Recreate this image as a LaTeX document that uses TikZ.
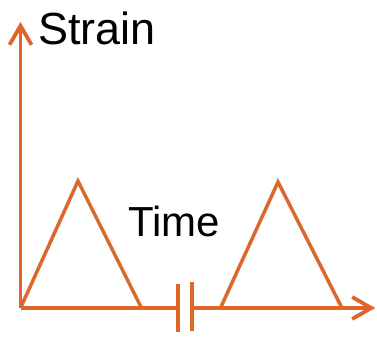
\documentclass[tikz,border=0pt]{standalone}
\usepackage{fontspec}
\setmainfont{Liberation Sans}
\usetikzlibrary{arrows.meta}
\definecolor{axisorange}{RGB}{224,101,40}
\tikzset{
  axisline/.style={draw=axisorange, line width=3.3pt, line cap=butt, line join=miter},
  shadowline/.style={draw=black!35, line width=4pt, opacity=0.35},
  tip/.style={-{Straight Barb[length=19pt,width=22pt,line width=3.8pt]}},
  label/.style={inner sep=0pt, anchor=base west, text=black}
}
\begin{document}
\begin{tikzpicture}[x=1pt,y=-1pt]
  \useasboundingbox (0,0) rectangle (377,338);
  % key points of the axes and the break
  \coordinate (O) at (20.5,308);
  \coordinate (ytop) at (20.5,22);
  \coordinate (xend) at (375,308);
  \coordinate (brkL) at (178,308);
  \coordinate (brkR) at (192,308);
  \coordinate (brkLtop) at (178,284);
  \coordinate (brkLbot) at (178,332);
  \coordinate (brkRtop) at (192,282);
  \coordinate (brkRbot) at (192,331);
  % two load pulses
  \coordinate (a1) at (20.5,308);
  \coordinate (p1) at (78,181);
  \coordinate (b1) at (141.5,308);
  \coordinate (a2) at (220.5,308);
  \coordinate (p2) at (278,182);
  \coordinate (b2) at (342,308);

  % soft drop shadow under the lines
  \begin{scope}[shift={(1.5,3)}]
    \path[shadowline] (a1) -- (p1) -- (b1);
    \path[shadowline] (a2) -- (p2) -- (b2);
    \path[shadowline] (O) -- (brkL);
    \path[shadowline] (brkR) -- (xend);
    \path[shadowline] (brkLtop) -- (brkLbot);
    \path[shadowline] (brkRtop) -- (brkRbot);
  \end{scope}

  % pulses
  \draw[axisline] (a1) -- (p1) -- (b1);
  \draw[axisline] (a2) -- (p2) -- (b2);
  % axes with the break on the time axis
  \draw[axisline, tip] (O) -- (ytop);
  \draw[axisline] (O) -- (brkL);
  \draw[axisline, tip] (brkR) -- (xend);
  \draw[axisline] (brkLtop) -- (brkLbot);
  \draw[axisline] (brkRtop) -- (brkRbot);

  % axis labels
  \node[label, font=\fontsize{45}{52}\selectfont] (strain) at (38,44) {Strain};
  \node[label, font=\fontsize{42}{49}\selectfont] (time) at (128,236) {Time};
\end{tikzpicture}
\end{document}
